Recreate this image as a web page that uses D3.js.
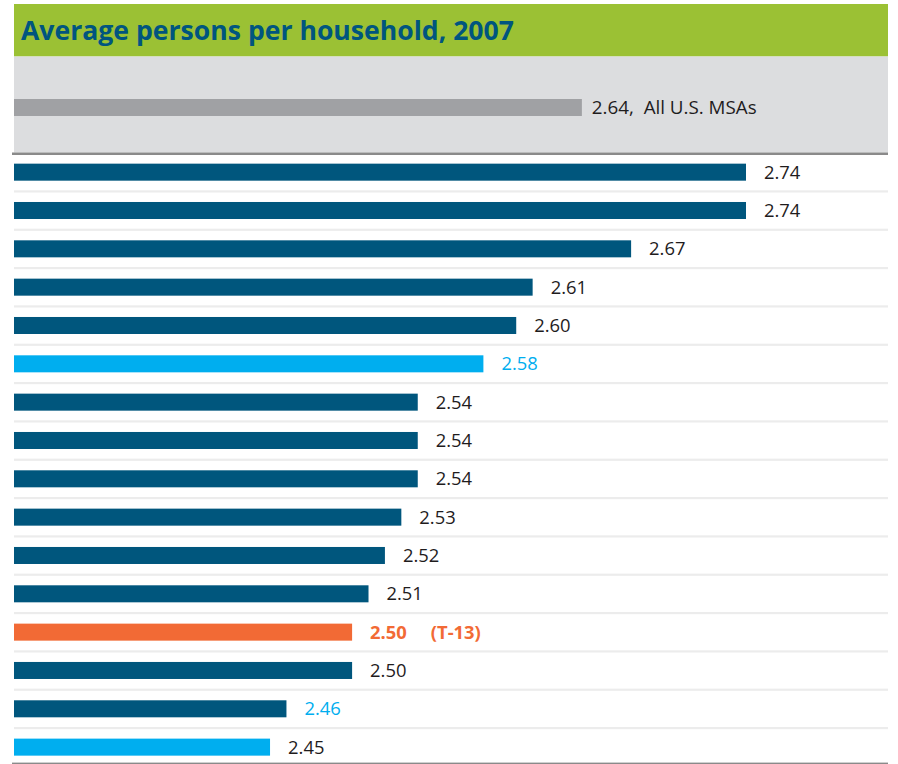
<!DOCTYPE html>
<html>
<head>
<meta charset="utf-8">
<script src="https://cdn.jsdelivr.net/npm/d3@7"></script>
<style>
  html, body { margin: 0; padding: 0; background: #fff; }
  svg { display: block; font-family: "Open Sans", "Noto Sans", sans-serif; }
</style>
</head>
<body>
<svg id="chart" width="898" height="764"></svg>
<script>
// Average persons per household, 2007
const title = "Average persons per household, 2007";

const benchmarkValue = 2.64;
const benchmarkLabel = "All U.S. MSAs";

const values = [2.74, 2.74, 2.67, 2.61, 2.60, 2.58, 2.54, 2.54, 2.54, 2.53, 2.52, 2.51, 2.50, 2.50, 2.46, 2.45];
// bar group: "metro" (regular), "peer" (light), "home" (featured)
const barGroup = ["metro", "metro", "metro", "metro", "metro", "peer", "metro", "metro", "metro", "metro", "metro", "metro", "home", "metro", "metro", "peer"];
const labelGroup = ["metro", "metro", "metro", "metro", "metro", "peer", "metro", "metro", "metro", "metro", "metro", "metro", "home", "metro", "peer", "metro"];
const labelSuffix = ["", "", "", "", "", "", "", "", "", "", "", "", "(T-13)", "", "", ""];

const barColor = { metro: "#00567d", peer: "#00aeef", home: "#f26a35" };
const textColor = { metro: "#1f1c1d", peer: "#00aeef", home: "#f26a35" };

const svg = d3.select("#chart");
const left = 14, right = 888;

// header band
svg.append("rect").attr("x", left).attr("y", 4).attr("width", right - left).attr("height", 52.5).attr("fill", "#9bc134");
svg.append("text").attr("x", 21).attr("y", 39.5)
  .attr("fill", "#00557f").attr("font-weight", 700).attr("font-size", 26.6)
  .text(title);

// benchmark panel
svg.append("rect").attr("x", left).attr("y", 56.5).attr("width", right - left).attr("height", 96).attr("fill", "#dcdddf");

const x = d3.scaleLinear().domain([2.294, 2.74]).range([left, 746]);

svg.append("rect").attr("x", left).attr("y", 99).attr("height", 17)
  .attr("width", x(benchmarkValue) - left).attr("fill", "#a0a1a4");
svg.append("text").attr("x", x(benchmarkValue) + 10).attr("y", 107.5).attr("dy", "0.35em")
  .attr("fill", "#1f1c1d").attr("font-size", 18.8)
  .text(d3.format(".2f")(benchmarkValue) + ",\u00a0\u00a0" + benchmarkLabel);

// rows
const y = d3.scaleBand().domain(d3.range(values.length)).range([153, 766.3])
  .paddingInner(0.556).paddingOuter(0.278);
const step = y.step();

// row separators
svg.append("g").selectAll("rect")
  .data(d3.range(1, values.length))
  .join("rect")
  .attr("x", left).attr("width", right - left)
  .attr("y", i => y(i) - y.paddingOuter() * step - 1)
  .attr("height", 2.2)
  .attr("fill", "#ececec");

svg.append("g").selectAll("rect")
  .data(values)
  .join("rect")
  .attr("x", left)
  .attr("y", (d, i) => y(i))
  .attr("height", y.bandwidth())
  .attr("width", d => x(d) - left)
  .attr("fill", (d, i) => barColor[barGroup[i]]);

svg.append("g").selectAll("text")
  .data(values)
  .join("text")
  .attr("x", d => x(d) + 18)
  .attr("y", (d, i) => y(i) + y.bandwidth() / 2)
  .attr("dy", "0.35em")
  .attr("font-size", 18.4)
  .attr("font-weight", (d, i) => labelGroup[i] === "home" ? 700 : 400)
  .attr("fill", (d, i) => textColor[labelGroup[i]])
  .text((d, i) => d3.format(".2f")(d) + (labelSuffix[i] ? "\u00a0\u00a0\u00a0\u00a0\u00a0" + labelSuffix[i] : ""));

// rules above and below the rows
svg.append("rect").attr("x", 12).attr("y", 152.5).attr("width", right - 12).attr("height", 2.5).attr("fill", "#8a8a8a");
svg.append("rect").attr("x", 12).attr("y", 762.6).attr("width", right - 12).attr("height", 1.4).attr("fill", "#8a8a8a");
</script>
</body>
</html>
